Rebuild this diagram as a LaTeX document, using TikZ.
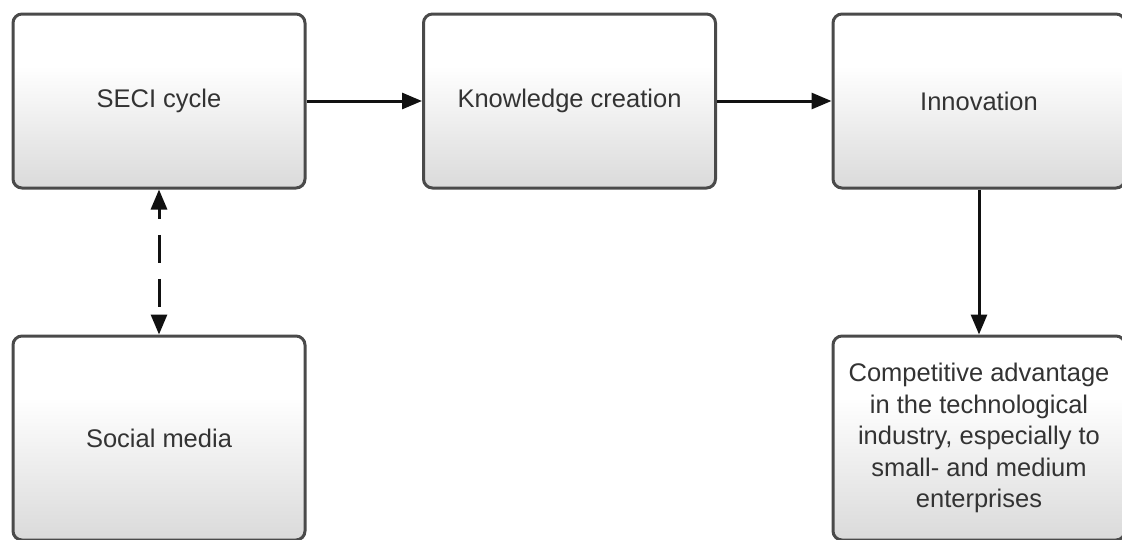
\documentclass[tikz,border=0pt]{standalone}
\usepackage{fontspec}
\setmainfont{Liberation Sans}
\usetikzlibrary{arrows.meta}
\definecolor{boxlow}{HTML}{DADADA}
\definecolor{boxmid}{HTML}{EFEFEF}
\definecolor{boxline}{HTML}{4A4A4A}
\definecolor{txt}{HTML}{333333}
\definecolor{wire}{HTML}{111111}
% soft white-to-grey fill, light at the top
\pgfdeclareverticalshading{boxfade}{100bp}{color(0bp)=(boxlow); color(25bp)=(boxlow); color(45bp)=(boxmid); color(60bp)=(white); color(100bp)=(white)}
\begin{document}
\begin{tikzpicture}[x=1pt,y=-1pt,
  box/.style={draw=boxline, line width=3pt, rounded corners=9pt, shading=boxfade,
    minimum width=292pt, minimum height=174pt, inner sep=0pt, text=txt,
    font=\fontsize{25.5}{31.5}\selectfont, align=center},
  tall/.style={minimum height=204pt},
  tip/.style={Triangle[length=20pt,width=16pt]},
  link/.style={draw=wire, line width=3pt, -{Triangle[length=20pt,width=16pt]}},
  twoway/.style={draw=wire, line width=3pt, {Triangle[length=20pt,width=16pt]}-{Triangle[length=20pt,width=16pt]},
    dash pattern=on 28pt off 16pt, dash phase=18pt}]
\useasboundingbox (0,0) rectangle (1122,539);
\clip (0,0) rectangle (1122,539);

\node[box] (seci) at (159,101) {SECI cycle};
\node[box] (know) at (569.5,101) {Knowledge creation};
\node[box] (inno) at (979,101) {Innovation};
\node[box,tall] (soc) at (159,438) {Social media};
\node[box,tall] (comp) at (979,438) {Competitive advantage\\in the technological\\industry, especially to\\small- and medium\\enterprises};

\draw[link] (seci.east) -- (know.west);
\draw[link] (know.east) -- (inno.west);
\draw[link] (inno.south) -- (comp.north);
\draw[twoway] (seci.south) -- (soc.north);
\end{tikzpicture}
\end{document}
